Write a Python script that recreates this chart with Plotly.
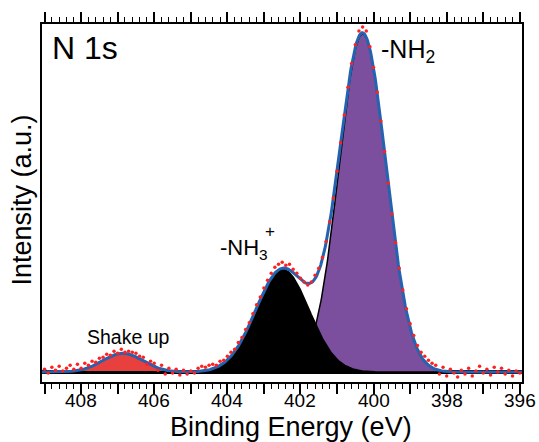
import numpy as np
import plotly.graph_objects as go

# Fitted components
peak_names = ["-NH2", "-NH3+", "Shake up"]
peak_centers = [400.30, 402.49, 406.86]
peak_fwhm = [1.52, 1.72, 1.30]
peak_heights = [342, 104, 19]
peak_colors = ["#7b4f9e", "#000000", "#e8403f"]
background = 10

# Measured spectrum: 409.0 -> 396.0 eV, 0.1 eV step
data_start, data_stop, data_points = 409.0, 396.0, 131
data_intensity = [
    13, 9, 15, 12, 16, 11, 14, 17, 13, 18, 14, 19, 17, 21, 20, 24, 25, 28, 27, 31,
    29, 33, 30, 31, 30, 29, 26, 25, 18, 21, 19, 12, 17, 8, 14, 9, 13, 7, 12, 8,
    11, 9, 14, 16, 15, 17, 18, 17, 21, 22, 26, 30, 33, 40, 45, 53, 60, 69, 78, 86,
    95, 103, 110, 116, 119, 121, 118, 119, 114, 110, 105, 101, 98, 101, 108, 115, 126, 142, 162, 186,
    213, 242, 270, 298, 322, 341, 355, 359, 355, 339, 318, 293, 264, 233, 201, 170, 141, 115, 93, 74,
    59, 47, 37, 30, 26, 22, 19, 17, 8, 15, 6, 13, 9, 5, 12, 8, 14, 6, 11, 16,
    9, 13, 7, 15, 10, 14, 8, 12, 6, 11, 9,
]

tick_values = list(range(396, 410))
tick_text = [str(v) if v % 2 == 0 else "" for v in tick_values]
minor_step = 0.2
x_range = [409.07, 395.94]
y_range = [0, 362]

def gauss(x, c, w, h):
    s = w / 2.3548
    return h * np.exp(-0.5 * ((x - c) / s) ** 2)

E = np.linspace(x_range[0], x_range[1], 700)
comps = [gauss(E, c, w, h) for c, w, h in zip(peak_centers, peak_fwhm, peak_heights)]
bg = np.full_like(E, background, dtype=float)
env = bg + sum(comps)
data_energy = np.linspace(data_start, data_stop, data_points)

fig = go.Figure()
fig.add_trace(go.Scatter(x=E, y=bg, mode="lines", line=dict(color="black", width=4), hoverinfo="skip"))
for idx in [2, 0, 1]:
    fig.add_trace(go.Scatter(x=E, y=bg, mode="lines", line=dict(width=0), hoverinfo="skip"))
    fig.add_trace(go.Scatter(x=E, y=bg + comps[idx], mode="lines", fill="tonexty", name=peak_names[idx],
                             fillcolor=peak_colors[idx], line=dict(color="black", width=1.5)))
fig.add_trace(go.Scatter(x=E, y=env, mode="lines", line=dict(color="#2563b0", width=3)))
fig.add_trace(go.Scatter(x=data_energy, y=data_intensity, mode="markers",
                         marker=dict(color="#ff2020", size=3.5)))

# ticks along the top edge of the frame (vertical line markers just above the frame)
all_minor = np.round(np.arange(396.0, 409.01, minor_step), 1)
top_major_x = [v for v in all_minor if abs(v - round(v)) < 1e-6]
top_minor_x = [v for v in all_minor if abs(v - round(v)) >= 1e-6]
fig.add_trace(go.Scatter(x=top_major_x, y=[y_range[1] + 4] * len(top_major_x), mode="markers",
                         cliponaxis=False, hoverinfo="skip",
                         marker=dict(symbol="line-ns", size=8, line=dict(color="black", width=1.4))))
fig.add_trace(go.Scatter(x=top_minor_x, y=[y_range[1] + 2] * len(top_minor_x), mode="markers",
                         cliponaxis=False, hoverinfo="skip",
                         marker=dict(symbol="line-ns", size=4, line=dict(color="black", width=1.1))))

font = "Liberation Sans, Arial, sans-serif"
fig.update_layout(
    width=539, height=442, margin=dict(l=42, r=17, t=20, b=60),
    paper_bgcolor="white", plot_bgcolor="white", showlegend=False,
    font=dict(family=font, color="black"),
    xaxis=dict(range=x_range, tickvals=tick_values, showticklabels=False,
               ticks="outside", ticklen=10, tickwidth=1.5, tickcolor="black",
               minor=dict(dtick=minor_step, tick0=0, ticks="outside", ticklen=5, tickwidth=1.2, tickcolor="black"),
               showline=True, linewidth=2, linecolor="black", mirror="allticks",
               showgrid=False, zeroline=False),
    yaxis=dict(range=y_range, showline=True, linewidth=2, linecolor="black", mirror=True,
               showticklabels=False, ticks="", showgrid=False, zeroline=False),
)

for v, t in zip(tick_values, tick_text):
    if t:
        fig.add_annotation(text=t, x=v, xref="x", y=-0.0525, yref="paper", showarrow=False,
                           xanchor="center", yanchor="middle",
                           font=dict(size=19, family=font, color="black"))
ann = [
    dict(text="N 1s", x=0.0166, y=0.934, size=32, xanchor="left"),
    dict(text="-NH<sub>2</sub>", x=0.703, y=0.925, size=25, xanchor="left"),
    dict(text="-NH<sub>3</sub>", x=0.366, y=0.372, size=22, xanchor="left"),
    dict(text="+", x=0.474, y=0.42, size=17, xanchor="center"),
    dict(text="Shake up", x=0.0895, y=0.1257, size=19.5, xanchor="left"),
    dict(text="Binding Energy (eV)", x=0.519, y=-0.1257, size=27, xanchor="center"),
]
for a in ann:
    fig.add_annotation(text=a["text"], x=a["x"], y=a["y"], xref="paper", yref="paper",
                       xanchor=a["xanchor"], yanchor="middle", showarrow=False,
                       font=dict(size=a["size"], family=font, color="black"))
fig.add_annotation(text="Intensity (a.u.)", x=-0.042, y=0.509, xref="paper", yref="paper",
                   textangle=-90, showarrow=False, xanchor="center", yanchor="middle",
                   font=dict(size=27, family=font, color="black"))
fig.write_html("out.html", config={"displayModeBar": False},
               post_script="document.body.style.margin='0';document.body.style.overflow='hidden';")
